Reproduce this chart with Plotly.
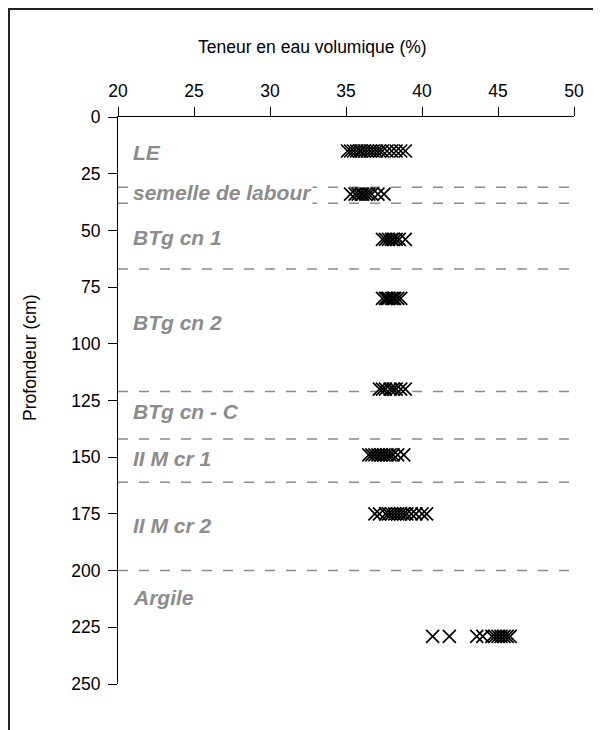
import plotly.graph_objects as go

# Measured volumetric water content (%) at each depth (cm)
depths = [15, 34, 54, 80, 120, 149, 175, 229]
values = [
    [35.1, 35.3, 35.5, 35.7, 35.9, 36.0, 36.2, 36.4, 36.6, 36.8, 37.0, 37.2, 37.4, 37.7, 38.0, 38.3, 38.6, 38.9],
    [35.3, 35.6, 35.8, 36.0, 36.1, 36.3, 36.5, 36.7, 37.1, 37.5],
    [37.4, 37.6, 37.8, 38.0, 38.1, 38.3, 38.5, 38.9],
    [37.4, 37.6, 37.7, 37.8, 38.0, 38.1, 38.2, 38.4, 38.6],
    [37.2, 37.4, 37.6, 37.9, 38.1, 38.3, 38.6, 38.9],
    [36.5, 36.7, 36.9, 37.1, 37.3, 37.5, 37.7, 37.9, 38.1, 38.4, 38.8],
    [36.9, 37.2, 37.6, 37.8, 38.0, 38.2, 38.4, 38.6, 38.8, 39.0, 39.3, 39.6, 40.0, 40.3],
    [40.7, 41.8, 43.6, 44.0, 44.6, 44.8, 45.0, 45.2, 45.4, 45.6, 45.8],
]

# Horizon boundaries (cm) and horizon labels
boundaries = [31, 38, 67, 121, 142, 161, 200]
horizon_labels = ["LE", "semelle de labour", "BTg cn 1", "BTg cn 2", "BTg cn - C",
                  "II M cr 1", "II M cr 2", "Argile"]
label_depths = [15.5, 33.5, 53, 90.5, 130, 150.5, 180, 212]

x_ticks = [20, 25, 30, 35, 40, 45, 50]
y_ticks = [0, 25, 50, 75, 100, 125, 150, 175, 200, 225, 250]
x_title = "Teneur en eau volumique (%)"
y_title = "Profondeur (cm)"

FONT = "Liberation Sans, Arial"

xs, ys = [], []
for d, vals in zip(depths, values):
    for v in vals:
        xs.append(v)
        ys.append(d)

fig = go.Figure()
for b in boundaries:
    fig.add_trace(go.Scatter(
        x=[20, 50], y=[b, b], mode="lines",
        line=dict(color="#8a8a8a", width=1.5, dash="10px,11px"),
        hoverinfo="skip", showlegend=False))

fig.add_trace(go.Scatter(
    x=xs, y=ys, mode="markers",
    marker=dict(symbol="x-thin", size=13, line=dict(color="black", width=1.7)),
    showlegend=False))

for lab, d in zip(horizon_labels, label_depths):
    fig.add_annotation(
        x=20.9, y=d, text="<b><i>" + lab + "</i></b>", showarrow=False,
        xanchor="left", yanchor="middle",
        font=dict(family=FONT, size=21, color="#8c8c8c"),
        bgcolor="white" if lab == "semelle de labour" else None,
        borderpad=0)

# axis titles (placed as in the original chart)
fig.add_annotation(x=0.426, y=1.1235, xref="paper", yref="paper", text=x_title,
                   showarrow=False, xanchor="center", yanchor="middle",
                   font=dict(family=FONT, size=17.5, color="black"))
fig.add_annotation(x=-0.193, y=0.575, xref="paper", yref="paper", text=y_title,
                   showarrow=False, xanchor="center", yanchor="middle", textangle=-90,
                   font=dict(family=FONT, size=17.5, color="black"))

fig.add_shape(type="rect", xref="paper", yref="paper",
              x0=-0.239, x1=1.0526, y0=-0.088, y1=1.1905,
              line=dict(color="#222222", width=2), layer="below")

fig.update_xaxes(
    range=[20, 50], side="top", tickvals=x_ticks,
    showgrid=False, zeroline=False, showline=True, linecolor="black", linewidth=1.2,
    ticks="outside", ticklen=9, tickcolor="black", tickwidth=1.2, ticklabelstandoff=3,
    tickfont=dict(family=FONT, size=17.5, color="black"))
fig.update_yaxes(
    range=[250, 0], tickvals=y_ticks,
    showgrid=False, zeroline=False, showline=True, linecolor="black", linewidth=1.2,
    ticks="outside", ticklen=9, tickcolor="black", tickwidth=1.2, ticklabelstandoff=4,
    tickfont=dict(family=FONT, size=17.5, color="black"))

fig.update_layout(
    width=601, height=730,
    margin=dict(l=110, r=35, t=109, b=54),
    plot_bgcolor="white", paper_bgcolor="white",
)

fig.write_html("out.html")
